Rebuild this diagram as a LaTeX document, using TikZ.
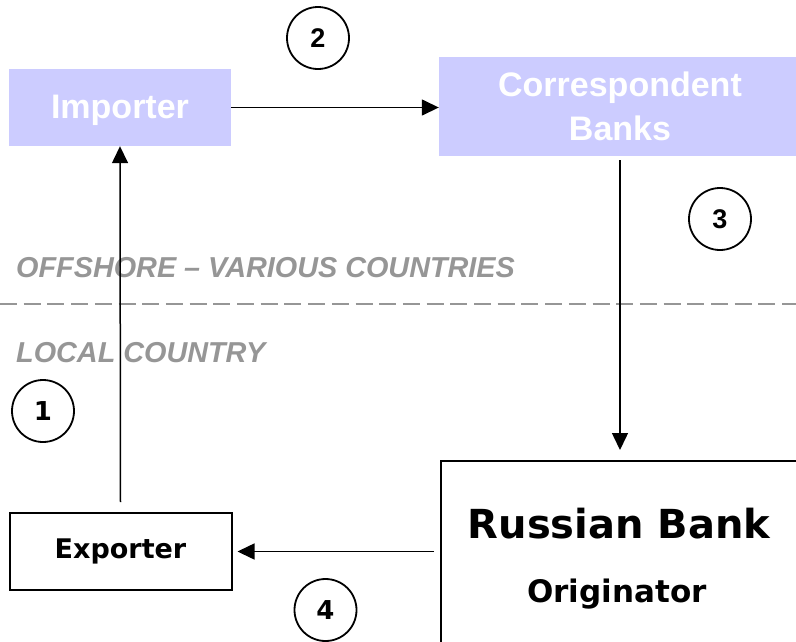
\documentclass[tikz,border=0pt]{standalone}
\usepackage{fontspec}
\setmainfont{Liberation Sans}
\newfontfamily\tahoma{DejaVu Sans}
\usetikzlibrary{arrows.meta}
\usetikzlibrary{positioning}
\definecolor{boxblue}{RGB}{204,204,255}
\definecolor{zonegray}{RGB}{150,150,150}
\tikzset{%
  flow/.style = {-{Triangle[length=17pt,width=16pt]},line width=1.5pt},
  bluebox/.style = {rectangle,fill=boxblue,text=white,align=center,
        font=\bfseries\fontsize{34}{44}\selectfont},
  whitebox/.style = {rectangle,draw,line width=2pt,fill=white},
  num/.style = {circle,draw,line width=1.8pt,minimum size=62pt,
        inner sep=0pt},
  zone/.style = {text=zonegray,inner sep=0pt,
        font=\bfseries\itshape\fontsize{28.8}{34}\selectfont},
  divider/.style = {zonegray,line width=2.7pt,dash pattern=on 17pt off 6.7pt}
}

\begin{document}
\begin{tikzpicture}[x=1pt,y=-1pt]
  \useasboundingbox (0,0) rectangle (796,641);
  \clip (0,0) rectangle (796,641);
  \fill[white] (0,0) rectangle (796,641);
  % zones
  \node[zone,anchor=base west] (offshore) at (16,277) {OFFSHORE -- VARIOUS COUNTRIES};
  \node[zone,anchor=base west] (local) at (16,362) {LOCAL COUNTRY};
  \draw[divider] (0,304) -- (800,304);
  % parties
  \node[bluebox,minimum width=222pt,minimum height=77pt,text depth=2pt] (importer)
    at (120,107.5) {Importer};
  \node[bluebox,minimum width=362pt,minimum height=99pt] (corr)
    at (620,106.5) {Correspondent\\Banks};
  \node[whitebox,minimum width=222pt,minimum height=77pt,
    font=\tahoma\bfseries\fontsize{27}{32}\selectfont] (exporter)
    at (120.5,551.5) {Exporter};
  \node[whitebox,minimum width=358pt,minimum height=240pt,anchor=north west]
    (rbank) at (440,460) {};
  \node[anchor=base,font=\tahoma\bfseries\fontsize{40}{46}\selectfont]
    (rname) at (619,538) {Russian Bank};
  \node[anchor=base,font=\tahoma\bfseries\fontsize{31}{36}\selectfont]
    (rrole) at (617,602) {Originator};
  % steps
  \node[num,font=\tahoma\bfseries\fontsize{26}{30}\selectfont] (c1) at (43,411) {1};
  \node[num,font=\bfseries\fontsize{27}{30}\selectfont] (c2) at (318,38) {2};
  \node[num,font=\bfseries\fontsize{27}{30}\selectfont] (c3) at (720,219) {3};
  \node[num,font=\tahoma\bfseries\fontsize{26}{30}\selectfont] (c4) at (325.5,610) {4};
  % flows
  \draw[flow] ([yshift=10pt]exporter.north) -- (importer.south);
  \draw[flow] (importer.east) -- (corr.west |- importer.east);
  \draw[flow] ([yshift=-4pt]corr.south) -- ([yshift=10pt]rbank.north -| corr.south);
  \draw[flow] ([xshift=-6pt]rbank.west |- exporter.east) -- ([xshift=5pt]exporter.east);
\end{tikzpicture}
\end{document}
